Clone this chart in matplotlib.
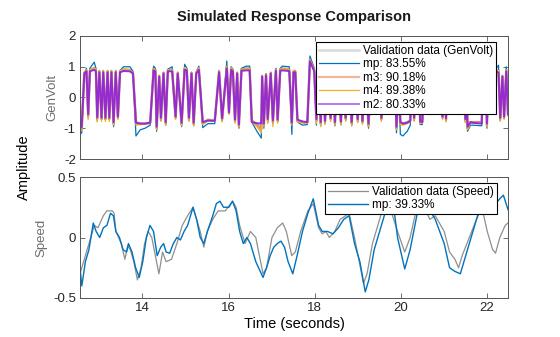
import numpy as np
import matplotlib.pyplot as plt
from matplotlib.ticker import FuncFormatter

plt.rcParams['font.family'] = ['Liberation Sans', 'DejaVu Sans']
plt.rcParams['axes.unicode_minus'] = False

# ---- GenVolt (top): breakpoints ----
t_volt = [12.55, 12.59, 12.65, 12.70, 12.74, 12.78, 12.88, 12.92, 12.95, 13.00,
          13.05, 13.09, 13.14, 13.19, 13.23, 13.28, 13.33, 13.38, 13.43, 13.48,
          13.56, 13.71, 13.78, 13.85, 13.95, 14.06, 14.18, 14.26, 14.30, 14.33,
          14.39, 14.43, 14.49, 14.54, 14.59, 14.69, 14.77, 14.82, 14.91, 14.98,
          15.03, 15.08, 15.14, 15.19, 15.25, 15.31, 15.40, 15.52, 15.68, 15.78,
          15.85, 15.96, 16.01, 16.06, 16.10, 16.15, 16.20, 16.24, 16.30, 16.41,
          16.49, 16.54, 16.66, 16.76, 16.78, 16.82, 16.87, 16.91, 16.98, 17.03,
          17.10, 17.14, 17.20, 17.25, 17.41, 17.47, 17.51, 17.55, 17.60, 17.72,
          17.83, 17.89, 17.99, 18.04, 18.09, 18.14, 18.19, 18.24, 18.30, 18.37,
          18.42, 18.47, 18.53, 18.61, 18.66, 18.72, 18.79, 18.86, 18.93, 19.00,
          19.05, 19.11, 19.18, 19.25, 19.32, 19.50, 19.55, 19.60, 19.86, 19.90,
          19.95, 19.99, 20.05, 20.15, 20.22, 20.26, 20.31, 20.36, 20.42, 20.45,
          20.50, 20.54, 20.70, 20.76, 20.93, 20.97, 21.01, 21.05, 21.10, 21.30,
          21.35, 21.40, 21.46, 21.50, 21.53, 21.55, 21.62, 21.67, 21.88, 21.92,
          21.97, 22.00, 22.05, 22.22, 22.27, 22.31, 22.36, 22.40, 22.45, 22.49]

volt_data = [-1.05, -1.00, 0.80, 0.88, -0.60, 0.88, 0.95, 0.88, -0.70, 0.85,
             -0.70, 0.85, -0.70, 0.85, -0.70, 0.85, -0.85, 0.85, -0.65, 0.85,
             0.92, 0.90, 0.80, -0.80, -0.85, -0.85, -0.82, 0.95, 0.90, -1.00,
             0.70, -0.70, 0.80, -0.85, 0.90, 0.90, -0.65, 0.80, -0.87, 0.95,
             0.92, -0.70, 0.80, -0.87, 0.80, 0.95, -0.84, -0.72, -0.75, 0.85,
             -0.72, 1.00, -0.50, 0.95, 0.90, -0.76, 0.80, -0.93, 0.92, 0.95,
             0.95, -0.76, -0.85, -1.00, 0.70, -0.90, 0.75, -0.75, 0.80, -0.80,
             0.92, -0.76, 0.92, 0.95, 0.92, -0.82, 0.85, 0.85, -0.75, -0.80,
             -0.82, 1.24, 0.90, -0.75, 0.90, -0.85, 0.90, -0.80, 0.90, -0.70,
             0.90, -0.85, 0.90, -0.82, 0.90, -0.70, 0.90, -0.85, 0.90, -0.75,
             0.90, -0.80, 0.90, -0.90, 0.90, 0.90, -0.70, 0.90, 0.90, -1.00,
             0.50, -0.80, -0.85, -0.80, -0.75, 0.90, -0.70, 0.90, 0.90, -0.80,
             -0.80, 0.90, -0.50, 0.90, 0.90, -0.65, 0.80, -0.72, 0.90, 0.90,
             -0.50, 0.90, 0.90, -0.75, 0.30, -1.00, -0.80, -0.80, -0.80, 0.90,
             0.90, -0.90, 0.90, 0.90, 0.85, -0.70, 0.70, -0.65, 0.90, -0.55]

volt_mp = [-1.20, -1.15, 0.75, 0.95, -0.65, 0.95, 1.15, 0.95, -0.75, 0.88,
           -0.72, 0.88, -0.72, 0.88, -0.72, 0.88, -0.95, 0.88, -0.68, 0.88,
           1.00, 1.00, 0.85, -1.25, -1.05, -1.00, -0.90, 1.02, 0.95, -1.10,
           0.72, -0.75, 0.82, -0.90, 0.92, 1.00, -0.68, 0.82, -0.95, 1.08,
           0.95, -0.75, 0.82, -0.92, 0.82, 1.02, -0.98, -0.85, -0.85, 0.88,
           -0.76, 1.19, -0.52, 1.00, 0.92, -0.80, 0.82, -1.00, 0.95, 1.02,
           1.02, -0.80, -1.10, -1.32, 0.65, -1.00, 0.78, -0.80, 0.82, -0.85,
           0.95, -0.80, 0.95, 1.02, 1.00, -1.20, 0.88, 0.88, -0.80, -0.90,
           -0.88, 1.35, 0.95, -0.90, 0.92, -0.92, 0.92, -0.85, 0.92, -0.75,
           0.92, -0.92, 0.92, -0.88, 0.92, -0.75, 0.92, -0.92, 0.92, -0.80,
           0.92, -0.85, 0.92, -1.00, 0.92, 0.95, -0.75, 0.92, 0.95, -1.15,
           0.50, -1.20, -1.25, -1.10, -0.90, 0.92, -0.75, 0.92, 0.92, -0.88,
           -0.88, 0.92, -0.52, 0.92, 0.95, -0.70, 0.82, -0.76, 0.92, 0.95,
           -0.52, 0.92, 0.92, -0.80, 0.30, -1.10, -0.90, -0.90, -0.92, 0.92,
           0.92, -1.00, 0.92, 0.95, 1.05, -0.75, 0.72, -0.68, 1.00, -0.50]

volt_m3 = [-1.05, -1.00, 0.80, 0.88, -0.62, 0.88, 0.95, 0.88, -0.70, 0.85,
           -0.70, 0.85, -0.70, 0.85, -0.70, 0.85, -0.85, 0.85, -0.65, 0.85,
           0.90, 0.88, 0.78, -0.85, -0.85, -0.85, -0.82, 0.92, 0.88, -1.00,
           0.70, -0.70, 0.80, -0.85, 0.88, 0.88, -0.65, 0.80, -0.87, 0.95,
           0.90, -0.70, 0.80, -0.87, 0.80, 0.95, -0.84, -0.74, -0.76, 0.85,
           -0.72, 1.00, -0.50, 0.95, 0.88, -0.76, 0.80, -0.93, 0.90, 0.93,
           0.93, -0.76, -0.90, -1.05, 0.70, -0.90, 0.75, -0.75, 0.80, -0.80,
           0.90, -0.76, 0.90, 0.93, 0.90, -0.85, 0.85, 0.85, -0.75, -0.80,
           -0.82, 1.22, 0.88, -0.75, 0.88, -0.85, 0.88, -0.80, 0.88, -0.70,
           0.88, -0.85, 0.88, -0.82, 0.88, -0.70, 0.88, -0.85, 0.88, -0.75,
           0.88, -0.80, 0.88, -0.90, 0.88, 0.88, -0.70, 0.88, 0.88, -1.00,
           0.50, -0.82, -0.86, -0.82, -0.76, 0.88, -0.70, 0.88, 0.88, -0.80,
           -0.80, 0.88, -0.50, 0.88, 0.88, -0.65, 0.80, -0.72, 0.88, 0.88,
           -0.50, 0.88, 0.88, -0.75, 0.30, -1.00, -0.80, -0.80, -0.80, 0.88,
           0.88, -0.90, 0.88, 0.88, 0.85, -0.70, 0.70, -0.65, 0.88, -0.55]

volt_m4 = [-1.10, -1.05, 0.82, 0.90, -0.72, 0.90, 0.98, 0.90, -0.80, 0.88,
           -0.78, 0.88, -0.78, 0.88, -0.78, 0.88, -0.90, 0.88, -0.72, 0.88,
           0.92, 0.90, 0.80, -0.90, -0.88, -0.86, -0.84, 0.95, 0.90, -1.05,
           0.72, -0.78, 0.82, -0.90, 0.90, 0.90, -0.72, 0.82, -0.92, 0.98,
           0.92, -0.78, 0.82, -0.92, 0.82, 0.97, -0.88, -0.76, -0.78, 0.88,
           -0.80, 1.02, -0.56, 0.97, 0.90, -0.84, 0.82, -0.96, 0.92, 0.95,
           0.95, -0.80, -0.95, -1.15, 0.72, -0.95, 0.78, -0.85, 0.82, -0.95,
           0.92, -0.84, 0.92, 0.95, 0.92, -0.90, 0.88, 0.88, -0.80, -0.82,
           -0.84, 1.25, 0.90, -0.85, 0.90, -0.95, 0.90, -0.88, 0.90, -0.78,
           0.90, -0.92, 0.90, -0.90, 0.90, -0.78, 0.90, -0.92, 0.90, -0.82,
           0.90, -0.88, 0.90, -0.95, 0.90, 0.90, -0.78, 0.90, 0.90, -1.05,
           0.52, -0.88, -0.90, -0.85, -0.78, 0.90, -0.78, 0.90, 0.90, -0.85,
           -0.84, 0.90, -0.56, 0.90, 0.90, -0.72, 0.82, -0.80, 0.90, 0.90,
           -0.56, 0.90, 0.90, -0.82, 0.32, -1.05, -0.84, -0.84, -0.84, 0.90,
           0.90, -0.95, 0.90, 0.90, 0.88, -0.78, 0.72, -0.72, 0.90, -0.60]

volt_m2 = [-1.00, -0.95, 0.78, 0.85, -0.55, 0.85, 0.90, 0.85, -0.65, 0.82,
           -0.66, 0.82, -0.66, 0.82, -0.66, 0.82, -0.80, 0.82, -0.62, 0.82,
           0.86, 0.85, 0.78, -0.82, -0.85, -0.85, -0.82, 0.88, 0.85, -0.95,
           0.68, -0.66, 0.78, -0.80, 0.85, 0.85, -0.62, 0.78, -0.82, 0.90,
           0.88, -0.66, 0.78, -0.82, 0.78, 0.90, -0.80, -0.75, -0.76, 0.82,
           -0.68, 0.95, -0.48, 0.90, 0.85, -0.72, 0.78, -0.88, 0.87, 0.88,
           0.88, -0.80, -0.84, -0.84, 0.68, -0.85, 0.72, -0.70, 0.78, -0.75,
           0.87, -0.72, 0.87, 0.88, 0.86, -0.82, 0.82, 0.82, -0.72, -0.78,
           -0.80, 1.18, 0.85, -0.70, 0.85, -0.80, 0.85, -0.76, 0.85, -0.66,
           0.85, -0.80, 0.85, -0.78, 0.85, -0.66, 0.85, -0.80, 0.85, -0.70,
           0.85, -0.76, 0.85, -0.85, 0.85, 0.85, -0.66, 0.85, 0.85, -0.95,
           0.48, -0.80, -0.85, -0.82, -0.76, 0.85, -0.66, 0.85, 0.85, -0.78,
           -0.80, 0.85, -0.48, 0.85, 0.85, -0.62, 0.78, -0.68, 0.85, 0.85,
           -0.48, 0.85, 0.85, -0.70, 0.28, -0.95, -0.80, -0.82, -0.85, 0.85,
           0.85, -0.85, 0.85, 0.85, 0.80, -0.66, 0.68, -0.62, 0.85, -0.55]

# ---- Speed (bottom) ----
t_speed = [12.55, 12.675, 12.80, 12.883, 12.967, 13.092, 13.175, 13.30, 13.342, 13.383,
           13.508, 13.592, 13.658, 13.717, 13.80, 13.883, 13.967, 14.05, 14.133, 14.217,
           14.30, 14.383, 14.467, 14.55, 14.675, 14.80, 14.925, 15.05, 15.175, 15.258,
           15.342, 15.425, 15.508, 15.633, 15.758, 15.925, 16.092, 16.175, 16.258, 16.383,
           16.508, 16.633, 16.80, 16.883, 17.008, 17.133, 17.258, 17.342, 17.467, 17.55,
           17.675, 17.842, 17.967, 18.092, 18.175, 18.258, 18.342, 18.467, 18.592, 18.717,
           18.80, 18.925, 19.008, 19.133, 19.217, 19.342, 19.467, 19.55, 19.717, 19.925,
           20.092, 20.217, 20.342, 20.508, 20.675, 20.80, 21.008, 21.133, 21.258, 21.342,
           21.425, 21.592, 21.758, 21.883, 22.008, 22.133, 22.20, 22.30, 22.425, 22.49]
speed_data = [-0.30, -0.15, 0.00, 0.10, 0.08, 0.18, 0.22, 0.22, 0.20, 0.05,
              -0.05, -0.18, -0.07, -0.10, -0.20, -0.35, -0.25, -0.05, 0.05, 0.00,
              -0.15, -0.30, -0.12, -0.20, -0.18, -0.05, 0.10, 0.18, 0.25, 0.15,
              0.05, -0.08, 0.05, 0.15, 0.22, 0.22, 0.30, 0.25, 0.10, -0.05,
              0.05, 0.00, -0.30, -0.25, 0.00, 0.08, 0.12, 0.05, -0.15, -0.12,
              0.05, 0.22, 0.28, 0.08, 0.03, 0.05, 0.00, 0.05, 0.15, 0.18,
              0.20, 0.00, -0.15, -0.38, -0.30, -0.05, 0.10, 0.20, 0.28, 0.05,
              -0.12, 0.00, 0.20, 0.28, 0.15, 0.18, 0.05, -0.12, -0.18, -0.25,
              -0.15, 0.00, 0.15, 0.25, 0.05, -0.10, -0.13, 0.00, 0.10, 0.12]

t_speed_mp = [12.55, 12.592, 12.675, 12.758, 12.858, 12.925, 13.008, 13.092, 13.175, 13.258,
              13.325, 13.383, 13.467, 13.55, 13.633, 13.675, 13.758, 13.842, 13.925, 14.008,
              14.092, 14.175, 14.258, 14.342, 14.425, 14.492, 14.55, 14.633, 14.717, 14.80,
              14.883, 14.967, 15.05, 15.175, 15.258, 15.342, 15.425, 15.508, 15.633, 15.717,
              15.80, 15.883, 16.008, 16.092, 16.175, 16.258, 16.342, 16.425, 16.508, 16.633,
              16.80, 16.883, 16.967, 17.05, 17.133, 17.217, 17.30, 17.383, 17.492, 17.592,
              17.717, 17.842, 17.967, 18.092, 18.175, 18.30, 18.425, 18.55, 18.675, 18.80,
              18.925, 19.05, 19.175, 19.258, 19.383, 19.508, 19.633, 19.80, 19.925, 20.092,
              20.217, 20.383, 20.55, 20.80, 21.008, 21.133, 21.258, 21.383, 21.508, 21.675,
              21.80, 21.925, 22.05, 22.133, 22.30, 22.383, 22.49]
speed_mp = [-0.25, -0.40, -0.20, -0.10, 0.12, 0.05, 0.00, 0.08, 0.10, 0.20,
            0.18, 0.05, 0.00, -0.10, -0.12, -0.05, -0.12, -0.25, -0.33, -0.20,
            0.00, 0.10, 0.05, -0.15, -0.08, -0.05, -0.12, -0.13, -0.05, 0.00,
            -0.02, 0.05, 0.10, 0.25, 0.15, 0.00, -0.05, 0.05, 0.18, 0.28,
            0.30, 0.25, 0.25, 0.30, 0.22, 0.05, -0.05, 0.00, -0.05, -0.20,
            -0.33, -0.25, -0.15, -0.08, -0.05, -0.03, -0.08, -0.20, -0.30, -0.15,
            0.05, 0.20, 0.32, 0.10, 0.05, 0.05, 0.03, 0.08, 0.15, 0.18,
            -0.05, -0.20, -0.45, -0.35, -0.10, 0.05, 0.20, 0.35, 0.00, -0.26,
            -0.10, 0.20, 0.30, 0.15, -0.05, -0.25, -0.28, -0.30, -0.15, 0.05,
            0.20, 0.30, 0.25, 0.25, 0.32, 0.35, 0.23]

time_ticks = [14, 16, 18, 20, 22]

fig = plt.figure(figsize=(5.6, 3.37), dpi=100)
ax1 = fig.add_axes([80 / 560, 1 - 159 / 337, 428 / 560, 123 / 337])
ax2 = fig.add_axes([80 / 560, 1 - 298 / 337, 428 / 560, 121 / 337], sharex=ax1)

ax1.plot(t_volt, volt_data, color='#BDBDBD', lw=1.8, label='Validation data (GenVolt)')
ax1.plot(t_volt, volt_mp, color='#0072BD', lw=0.9, label='mp: 83.55%')
ax1.plot(t_volt, volt_m3, color='#E8845C', lw=1.6, alpha=0.8, label='m3: 90.18%')
ax1.plot(t_volt, volt_m4, color='#EDB120', lw=0.9, label='m4: 89.38%')
ax1.plot(t_volt, volt_m2, color='#8C1EE6', lw=1.4, alpha=0.9, label='m2: 80.33%')

ax2.plot(t_speed, speed_data, color='#8F8F8F', lw=0.9, label='Validation data (Speed)')
ax2.plot(t_speed_mp, speed_mp, color='#0072BD', lw=1.0, label='mp: 39.33%')

ax1.set_xlim(12.55, 22.49)
ax1.set_ylim(-2, 2)
ax1.set_yticks([-2, -1, 0, 1, 2])
ax2.set_ylim(-0.5, 0.5)
ax2.set_yticks([-0.5, 0, 0.5])
ax2.set_xticks(time_ticks)
ax1.tick_params(labelbottom=False)

fmt = FuncFormatter(lambda v, p: f'{v:g}')
for ax in (ax1, ax2):
    ax.yaxis.set_major_formatter(fmt)
    ax.xaxis.set_major_formatter(fmt)
    ax.tick_params(direction='in', top=True, right=True, length=3.5, width=0.6,
                   color='#555555', labelcolor='#262626', labelsize=9.5, pad=3)
    for s in ax.spines.values():
        s.set_color('#555555')
        s.set_linewidth(0.7)

ax1.set_ylabel('GenVolt', color='#6E6E6E', fontsize=9.5)
ax2.set_ylabel('Speed', color='#6E6E6E', fontsize=9.5)

leg_kw = dict(loc='upper right', borderaxespad=0, fontsize=8.5, fancybox=False,
              edgecolor='black', framealpha=1, handlelength=3.4, handletextpad=0.35,
              borderpad=0.25, labelspacing=0.12)
leg1 = ax1.legend(bbox_to_anchor=(0.972, 0.951), **leg_kw)
leg2 = ax2.legend(bbox_to_anchor=(0.974, 0.950), **leg_kw)
for leg in (leg1, leg2):
    leg.get_frame().set_linewidth(0.8)
for ln in leg1.get_lines():
    if ln.get_linewidth() > 1.2:
        ln.set_alpha(0.6)

cx = (80 + 508) / 2 / 560
fig.text(cx, 1 - 17 / 337, 'Simulated Response Comparison', ha='center', va='center',
         fontsize=10.5, fontweight='bold', color='#1a1a1a')
fig.text(0.042, 1 - 167 / 337, 'Amplitude', rotation=90, ha='center', va='center',
         fontsize=10.5)
fig.text(cx, 1 - 324 / 337, 'Time (seconds)', ha='center', va='center', fontsize=10.5)

fig.savefig('out.png', dpi=100)
